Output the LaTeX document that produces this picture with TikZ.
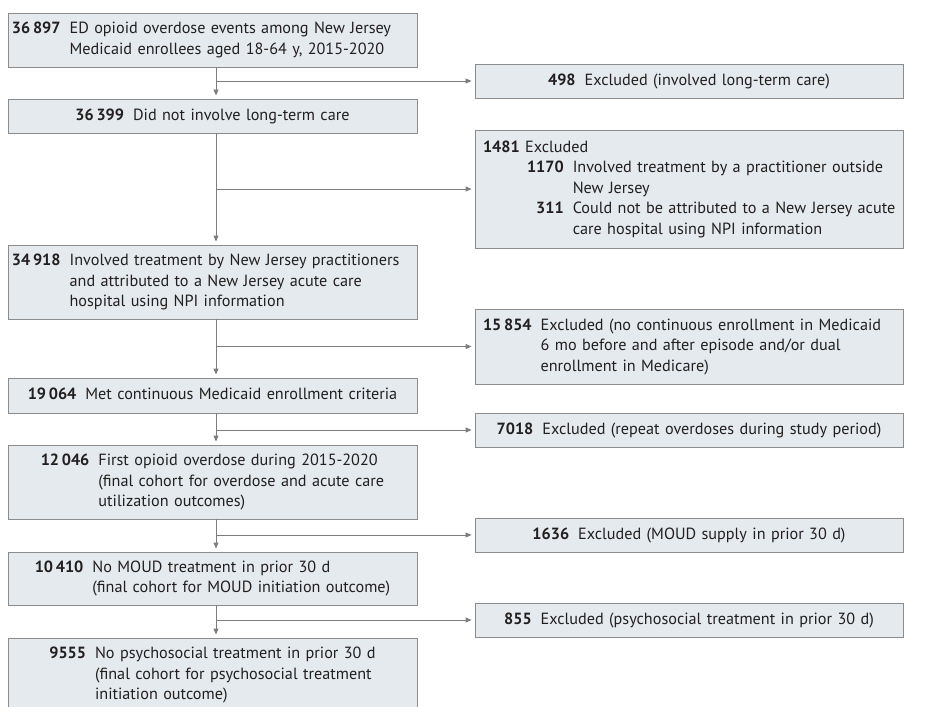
\documentclass[tikz,border=0pt]{standalone}
\usepackage{fontspec}
\setmainfont{PT Sans}
\usetikzlibrary{arrows.meta,positioning}
\definecolor{boxfill}{RGB}{228,234,237}
\definecolor{boxline}{RGB}{140,140,140}
\definecolor{arrowgray}{RGB}{125,125,125}
\definecolor{ink}{RGB}{35,31,32}
\newcommand{\entry}[2]{\begin{tabular}[t]{@{}r@{\hspace{9pt}}l@{}}\textbf{#1} & #2\end{tabular}}

\begin{document}
\begin{tikzpicture}[x=1pt,y=-1pt,font=\fontsize{16.2}{20.5}\selectfont,text=ink,
  box/.style={draw=boxline,fill=boxfill,line width=0.9pt,inner ysep=0pt},
  lbox/.style={box,inner xsep=4pt,text width=401pt},
  rbox/.style={box,inner xsep=8pt,text width=412pt},
  flow/.style={draw=arrowgray,line width=0.9pt,-{Triangle[length=6pt,width=5pt]},shorten >=3pt}]
  \clip (0,0) rectangle (925,706);

  \node[lbox,align=left,minimum height=54pt] (L1) at (212.5,40)
    {\entry{36\,897}{ED opioid overdose events among New Jersey\\ & Medicaid enrollees aged 18-64 y, 2015-2020}};
  \node[lbox,align=center,minimum height=34pt] (L2) at (212.5,116)
    {\entry{36\,399}{Did not involve long-term care}};
  \node[lbox,align=left,minimum height=74pt] (L3) at (212.5,282)
    {\entry{34\,918}{Involved treatment by New Jersey practitioners\\ & and attributed to a New Jersey acute care\\ & hospital using NPI information}};
  \node[lbox,align=center,minimum height=35pt] (L4) at (212.5,395.5)
    {\entry{19\,064}{Met continuous Medicaid enrollment criteria}};
  \node[lbox,align=center,minimum height=74pt] (L5) at (212.5,482)
    {\entry{12\,046}{First opioid overdose during 2015-2020\\ & (final cohort for overdose and acute care\\ & utilization outcomes)}};
  \node[lbox,align=center,minimum height=53pt] (L6) at (212.5,578.5)
    {\entry{10\,410}{No MOUD treatment in prior 30 d\\ & (final cohort for MOUD initiation outcome)}};
  \node[lbox,align=center,minimum height=74pt] (L7) at (212.5,675)
    {\entry{9555}{No psychosocial treatment in prior 30 d\\ & (final cohort for psychosocial treatment\\ & initiation outcome)}};

  \node[rbox,align=center,minimum height=34pt] (R1) at (689,81)
    {\entry{498}{Excluded (involved long-term care)}};
  \node[rbox,align=left,minimum height=118pt] (R2) at (689,189)
    {\begin{tabular}[t]{@{\hspace{44pt}}r@{\hspace{9pt}}l@{}}
      \multicolumn{2}{@{}l@{}}{\textbf{1481}~Excluded}\\
      \textbf{1170} & Involved treatment by a practitioner outside\\
       & New Jersey\\
      \textbf{311} & Could not be attributed to a New Jersey acute\\
       & care hospital using NPI information
    \end{tabular}};
  \node[rbox,align=left,minimum height=75pt] (R3) at (689,346.5)
    {\entry{15\,854}{Excluded (no continuous enrollment in Medicaid\\ & 6 mo before and after episode and/or dual\\ & enrollment in Medicare)}};
  \node[rbox,align=center,minimum height=34pt] (R4) at (689,430)
    {\entry{7018}{Excluded (repeat overdoses during study period)}};
  \node[rbox,align=center,minimum height=34pt] (R5) at (689,535)
    {\entry{1636}{Excluded (MOUD supply in prior 30 d)}};
  \node[rbox,align=center,minimum height=34pt] (R6) at (689,620)
    {\entry{855}{Excluded (psychosocial treatment in prior 30 d)}};

  \coordinate (T) at (216,0);
  \draw[flow] (L1.south -| T) -- (L2.north -| T);
  \draw[flow] (L2.south -| T) -- (L3.north -| T);
  \draw[flow] (L3.south -| T) -- (L4.north -| T);
  \draw[flow] (L4.south -| T) -- (L5.north -| T);
  \draw[flow] (L5.south -| T) -- (L6.north -| T);
  \draw[flow] (L6.south -| T) -- (L7.north -| T);

  \draw[flow] (R1.west -| T) -- (R1.west);
  \draw[flow] (R2.west -| T) -- (R2.west);
  \draw[flow] (R3.west -| T) -- (R3.west);
  \draw[flow] (R4.west -| T) -- (R4.west);
  \draw[flow] (R5.west -| T) -- (R5.west);
  \draw[flow] (R6.west -| T) -- (R6.west);
\end{tikzpicture}
\end{document}
